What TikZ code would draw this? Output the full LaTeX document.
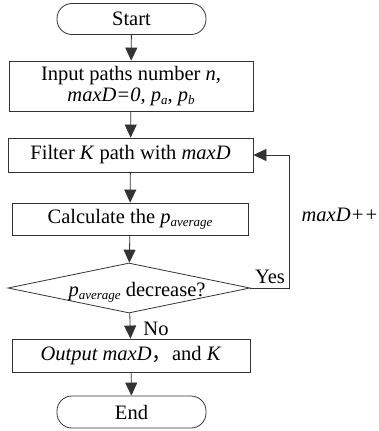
\documentclass[tikz,border=0pt]{standalone}
\usepackage{fontspec}
\setmainfont{Liberation Serif}
\newfontfamily\cjk{Noto Sans CJK SC}
\usetikzlibrary{shapes.geometric,arrows.meta}
\newcommand{\sbs}[1]{\raisebox{-0.35ex}{\fontsize{13}{13}\selectfont\textit{#1}}}
\begin{document}
\begin{tikzpicture}[x=1pt,y=-1pt,
  every node/.style={font=\fontsize{20.5}{21}\selectfont},
  line/.style={draw=black!80,line width=0.8pt},
  term/.style={line,rounded corners=15pt,minimum width=149pt,minimum height=31pt,inner sep=0pt},
  proc/.style={line,minimum height=33pt,inner sep=0pt,align=center},
  arr/.style={line,-{Triangle[length=13pt,width=12pt]}},
  lbl/.style={inner sep=0pt}]
\useasboundingbox (0,0) rectangle (379,431);
\node[term] (start) at (131.5,19) {Start};
\node[proc,minimum width=244pt,minimum height=50pt] (input) at (131,86)
  {Input paths number \textit{n},\\ \textit{maxD=0}, \textit{p}\sbs{a}, \textit{p}\sbs{b}};
\node[proc,minimum width=245pt,minimum height=34pt] (filter) at (130.5,155)
  {Filter \textit{K} path with \textit{maxD}};
\node[proc,minimum width=236pt,minimum height=32pt] (calc) at (130,219)
  {Calculate the \textit{p}\sbs{average}};
\node[line,diamond,aspect=4.84,inner sep=0pt,minimum width=242pt,minimum height=50pt,
  text height=17pt,text depth=0pt] (dec) at (129,288)
  {\makebox[0pt]{\hspace*{16pt}\textit{p}\sbs{average} decrease?}};
\node[proc,minimum width=238pt,minimum height=33pt] (out) at (131,355.5)
  {\textit{Output maxD}{\cjk ，}and \textit{K}};
\node[term,minimum height=32pt] (end) at (131.5,412) {End};
\coordinate (c1) at (289,288);
\coordinate (c2) at (289,155);
\draw[arr] (start) -- (input);
\draw[arr] (input) -- (filter);
\draw[arr] (filter) -- (calc);
\draw[arr] (calc) -- (dec);
\draw[arr] (dec) -- (out);
\draw[arr] (out) -- (end);
\draw[arr] (dec.east) -- (c1) -- (c2) -- (filter.east);
\node[lbl] (yes) at (270,277) {Yes};
\node[lbl] (no) at (156,329) {No};
\node[lbl] (inc) at (340,215) {\textit{maxD++}};
\end{tikzpicture}
\end{document}
